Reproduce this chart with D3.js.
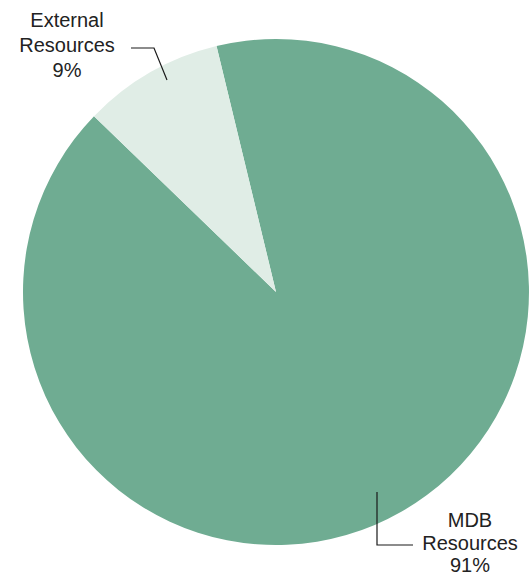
<!DOCTYPE html>
<html><head><meta charset="utf-8">
<script src="https://cdn.jsdelivr.net/npm/d3@7"></script>
<style>html,body{margin:0;padding:0;background:#fff;}</style>
</head><body>
<svg id="chart" width="531" height="577"></svg>
<script>
const categories = ["MDB Resources", "External Resources"];
const values = [91, 9];
const labelLines = [["MDB", "Resources", "91%"], ["External", "Resources", "9%"]];
const colors = ["#6fac92", "#e0ede6"];

const svg = d3.select("#chart");
const cx = 276, cy = 292, r = 253;
const startDeg = -13.6;
const pie = d3.pie().sort(null).value(d => d)
  .startAngle(startDeg * Math.PI / 180)
  .endAngle((startDeg + 360) * Math.PI / 180);
const arc = d3.arc().innerRadius(0).outerRadius(r);
const g = svg.append("g").attr("transform", `translate(${cx},${cy})`);
g.selectAll("path").data(pie(values)).join("path")
  .attr("d", arc).attr("fill", (d, i) => colors[i]);

// leader lines
const lines = [
  [[377, 492], [377, 545], [413, 545]],
  [[131, 48], [154, 48], [167, 80]]
];
svg.selectAll("polyline.leader").data(lines).join("polyline")
  .attr("class", "leader")
  .attr("points", d => d.map(p => p.join(",")).join(" "))
  .attr("fill", "none").attr("stroke", "#1a1a1a").attr("stroke-width", 1.2);

const labelPos = [[470, 527], [67, 27]];
const spacing = [22.5, 25];
labelLines.forEach((ls, i) => {
  const t = svg.append("text")
    .attr("text-anchor", "middle")
    .attr("font-family", "Liberation Sans, Arial, sans-serif")
    .attr("font-size", 20)
    .attr("fill", "#222");
  ls.forEach((s, j) => {
    t.append("tspan").attr("x", labelPos[i][0]).attr("y", labelPos[i][1] + j * spacing[i]).text(s);
  });
});
</script>
</body></html>
